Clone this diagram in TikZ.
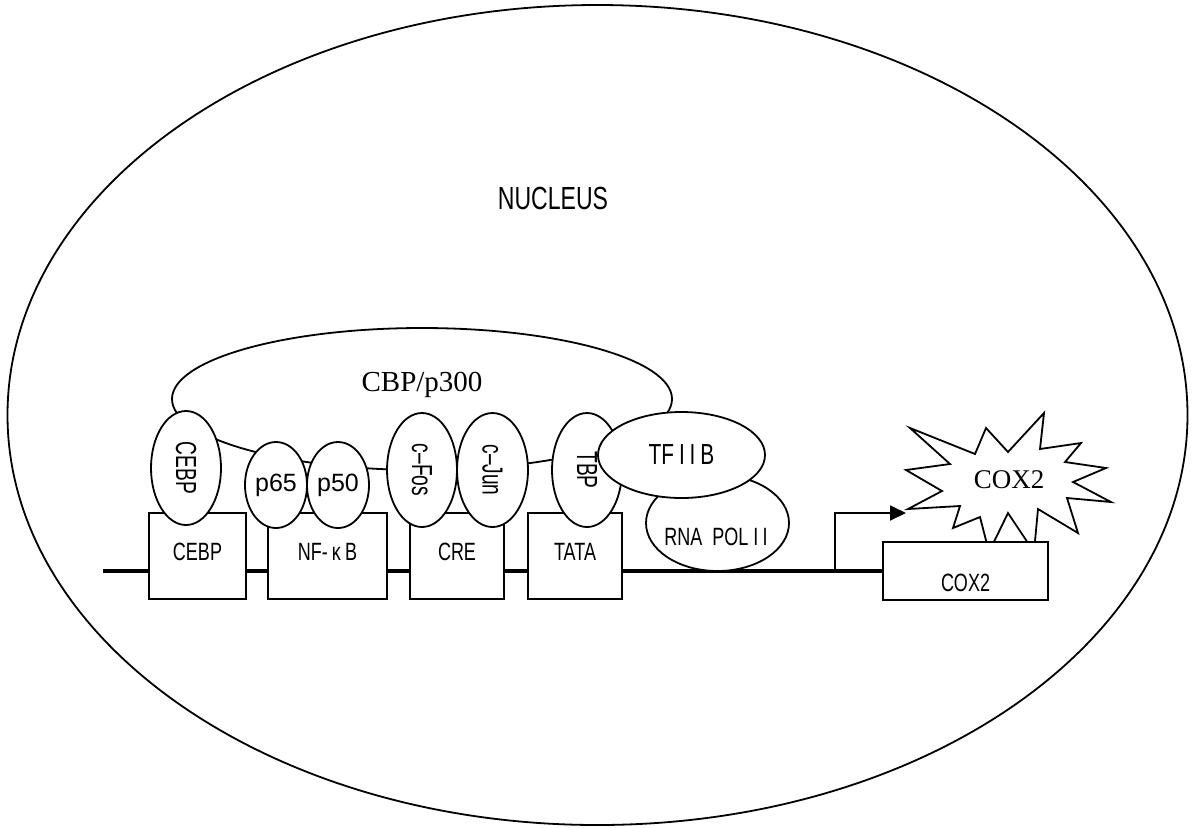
\documentclass[tikz,border=0pt]{standalone}
\usepackage{fontspec}
\setmainfont{Liberation Serif}
\setsansfont{Liberation Sans}
\newfontfamily\gulim[FakeStretch=0.72]{Liberation Sans}
\newfontfamily\gulimtall[FakeStretch=0.66]{Liberation Sans}
\usetikzlibrary{shapes.geometric,arrows.meta,backgrounds}

\begin{document}
\begin{tikzpicture}[
  x=0.5pt, y=-0.5pt,
  every node/.style={inner sep=0pt, line width=0.9pt},
  oval/.style={draw, ellipse, fill=white},
  site/.style={draw, rectangle, fill=white, minimum width=47pt, minimum height=43pt, font=\gulim\fontsize{12.5}{14}\selectfont, text depth=4pt},
  factor/.style={oval, rotate=-90, minimum width=57pt, minimum height=35pt, font=\gulimtall\fontsize{14.5}{16}\selectfont},
  subunit/.style={oval, minimum width=31pt, minimum height=43pt, font=\sffamily\fontsize{12.5}{14}\selectfont},
  tag/.style={font=\gulim\fontsize{12.5}{14}\selectfont}
]
  \useasboundingbox (0,0) rectangle (1194,827);

  \node[draw, ellipse, minimum width=590pt, minimum height=410pt] (nucleus) at (597.5,415) {};
  \node[font=\gulim\fontsize{16}{18}\selectfont] (nucleuslabel) at (553,198) {NUCLEUS};

  \node[site, minimum width=48.5pt] (cebpsite) at (197.5,556) {CEBP};
  \node[site, minimum width=59.5pt] (nfkbsite) at (327.5,556) {NF-\,κ\,B};
  \node[site] (cresite) at (457,556) {CRE};
  \node[site] (tatasite) at (575,556) {TATA};

  \node[oval, minimum width=250pt, minimum height=71pt] (cbp) at (422,399) {};
  \node[font=\fontsize{14.5}{16}\selectfont] (cbplabel) at (422,385) {CBP/p300};

  \node[factor] (cebp) at (186,468) {CEBP};
  \node[subunit] (p65) at (276,485) {p65};
  \node[subunit] (p50) at (338,485) {p50};
  \node[factor] (cfos) at (422,470) {c\textendash Fos};
  \node[factor, minimum height=35.5pt] (cjun) at (492.5,470) {c\textendash Jun};
  \node[factor] (tbp) at (587,470) {TBP};

  \node[oval, minimum width=71.5pt, minimum height=48pt] (rnapol) at (717.5,523) {};
  \node[tag] (rnapollabel) at (716,537) {RNA~~POL~I\,I};
  \node[oval, minimum width=83.5pt, minimum height=43pt, font=\gulim\fontsize{14.5}{16}\selectfont] (tfiib) at (681.5,455) {TF\,I\,I\,B};

  \draw[line width=0.9pt, fill=white] (908,509) -- (942,491) -- (906,470) -- (950,464) -- (910,428)
    -- (975,454) -- (986,428) -- (1008,452) -- (1044,413) -- (1040,449) -- (1081,443)
    -- (1065,462) -- (1106,468) -- (1073,482) -- (1111,502) -- (1067,498) -- (1078,533)
    -- (1038,509) -- (1034,552) -- (1008,513) -- (989,552) -- (980,517) -- (953,528)
    -- (960,506) -- cycle;
  \node[font=\fontsize{13.5}{15}\selectfont] (cox2prot) at (1009,480) {COX2};

  \node[site, minimum width=82.5pt, minimum height=29pt] (cox2gene) at (965.5,571) {};
  \node[tag] (cox2genelabel) at (965.5,583) {COX2};

  \coordinate (dnastart) at (103,571);
  \coordinate (tss) at (835,571);
  \coordinate (burst) at (906,513);
  \draw[line width=0.9pt, -{Triangle[length=8pt, width=7.5pt]}] (tss) |- (burst);

  \begin{pgfonlayer}{background}
    \draw[line width=2.2pt] (dnastart) -- (cox2gene.west);
  \end{pgfonlayer}
\end{tikzpicture}
\end{document}
